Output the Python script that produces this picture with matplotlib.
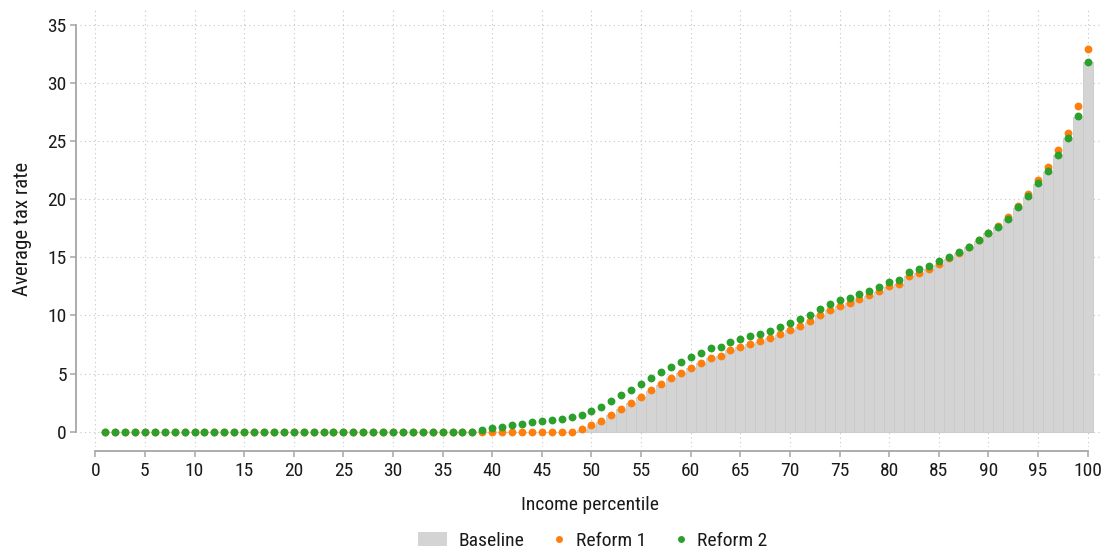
import matplotlib
matplotlib.use("Agg")
import matplotlib.pyplot as plt
from matplotlib.patches import Patch
from matplotlib.lines import Line2D
from matplotlib.legend_handler import HandlerLine2D

plt.rcParams['font.family'] = ['Roboto Condensed', 'Roboto', 'DejaVu Sans']

percentiles = list(range(1, 101))

# Reform 2 (green)
reform2 = [0.0] * 38 + [
    0.14, 0.29, 0.43, 0.54, 0.69, 0.80, 0.92, 1.00, 1.12, 1.26,   # 39-48
    1.46, 1.81, 2.15, 2.67, 3.15, 3.61, 4.10, 4.61, 5.10, 5.56,   # 49-58
    5.99, 6.42, 6.79, 7.17, 7.26, 7.72, 7.98, 8.26, 8.44, 8.67,   # 59-68
    8.98, 9.38, 9.67, 10.01, 10.56, 10.99, 11.31, 11.53, 11.82, 12.14,  # 69-78
    12.45, 12.85, 13.07, 13.72, 13.96, 14.29, 14.65, 15.07, 15.47, 15.90,  # 79-88
    16.47, 17.13, 17.64, 18.33, 19.31, 20.26, 21.38, 22.41, 23.84, 25.30,  # 89-98
    27.17, 31.84,  # 99-100
]

# Reform 1 (orange)
reform1 = [0.0] * 48 + [
    0.20, 0.54, 0.89, 1.43, 1.95, 2.46, 3.01, 3.55, 4.07, 4.61,   # 49-58
    5.04, 5.50, 5.93, 6.33, 6.50, 7.06, 7.29, 7.57, 7.78, 8.06,   # 59-68
    8.38, 8.78, 9.07, 9.50, 10.04, 10.47, 10.82, 11.10, 11.39, 11.74,  # 69-78
    12.08, 12.51, 12.74, 13.43, 13.66, 14.03, 14.40, 14.92, 15.41, 15.90,  # 79-88
    16.47, 17.13, 17.70, 18.45, 19.45, 20.46, 21.66, 22.75, 24.22, 25.73,  # 89-98
    28.00, 32.93,  # 99-100
]

# Baseline (grey bars)
baseline = [0.0] * 48 + [
    0.15, 0.50, 0.87, 1.40, 1.92, 2.43, 2.98, 3.52, 4.04, 4.58,   # 49-58
    5.01, 5.47, 5.90, 6.30, 6.47, 7.03, 7.26, 7.54, 7.75, 8.03,   # 59-68
    8.35, 8.75, 9.04, 9.47, 10.01, 10.44, 10.79, 11.07, 11.36, 11.71,  # 69-78
    12.05, 12.48, 12.71, 13.40, 13.63, 14.00, 14.37, 14.89, 15.38, 15.86,  # 79-88
    16.42, 17.08, 17.60, 18.28, 19.26, 20.21, 21.33, 22.36, 23.79, 25.25,  # 89-98
    27.12, 31.80,  # 99-100
]

bar_color = '#d4d4d4'
orange = '#ff7f0e'
green = '#2ca02c'
axis_grey = '#a6a6a6'
text_color = '#1a1a1a'


class RightDot(HandlerLine2D):
    # put the legend dot near the right end of its handle box
    def create_artists(self, legend, orig_handle, xdescent, ydescent,
                       width, height, fontsize, trans):
        artists = super().create_artists(legend, orig_handle, xdescent,
                                         ydescent, width, height, fontsize,
                                         trans)
        for a in artists:
            a.set_xdata([width - xdescent - 3.6])
        return artists


fig = plt.figure(figsize=(11.01, 5.54), dpi=100)
ax = fig.add_axes([80 / 1101, 107 / 554, 1020 / 1101, 437 / 554])

ax.bar(percentiles, baseline, width=1.0, color=bar_color,
       edgecolor='#c9c9c9', linewidth=0.6, zorder=2)
ax.scatter(percentiles, reform1, s=32, color=orange, linewidths=0, zorder=3)
ax.scatter(percentiles, reform2, s=32, color=green, linewidths=0, zorder=4)

ax.set_xlim(-1.54, 101.24)
ax.set_ylim(-1.32, 36.29)
ax.set_xticks(range(0, 101, 5))
ax.set_yticks(range(0, 36, 5))

ax.grid(True, linestyle=(0, (1, 3)), color='#c4c4c4', linewidth=0.8, zorder=0)
ax.set_axisbelow(True)

for side in ['top', 'right']:
    ax.spines[side].set_visible(False)
ax.spines['left'].set_position(('outward', 3))
ax.spines['bottom'].set_position(('outward', 3))
ax.spines['left'].set_bounds(0, 35)
ax.spines['bottom'].set_bounds(0, 100)
for side in ['left', 'bottom']:
    ax.spines[side].set_color(axis_grey)
    ax.spines[side].set_linewidth(1.3)

ax.tick_params(axis='both', direction='out', length=4.5, width=1.1,
               color=axis_grey, labelsize=14, labelcolor=text_color)
ax.tick_params(axis='x', pad=3.5)
ax.tick_params(axis='y', pad=2)

ax.set_xlabel('Income percentile', fontsize=14, color=text_color, labelpad=11)
ax.set_ylabel('Average tax rate', fontsize=15, color=text_color, labelpad=11)

dot1 = Line2D([], [], linestyle='none', marker='o', markersize=5,
              markerfacecolor=orange, markeredgewidth=0)
dot2 = Line2D([], [], linestyle='none', marker='o', markersize=5,
              markerfacecolor=green, markeredgewidth=0)
handles = [Patch(facecolor=bar_color, edgecolor='none'), dot1, dot2]
fig.legend(handles, ['Baseline', 'Reform 1', 'Reform 2'],
           loc='center', bbox_to_anchor=(593 / 1101, 1 - 541 / 554),
           ncol=3, frameon=False, fontsize=14, handlelength=1.45,
           handleheight=0.75, handletextpad=0.6, columnspacing=0.6,
           labelcolor=text_color,
           handler_map={dot1: RightDot(numpoints=1), dot2: RightDot(numpoints=1)})

fig.savefig('out.png', dpi=100)
